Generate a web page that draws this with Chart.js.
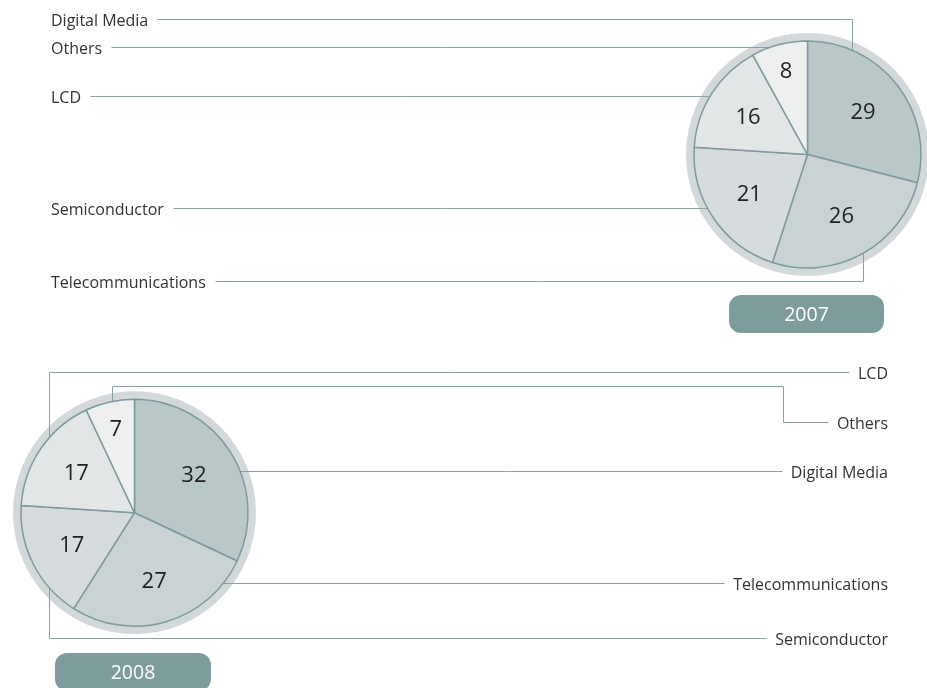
<!DOCTYPE html>
<html>
<head>
<meta charset="utf-8">
<title>Sales by business</title>
<script src="https://cdn.jsdelivr.net/npm/chart.js@4"></script>
<style>
  html, body { margin: 0; padding: 0; background: #fff; overflow: hidden; }
  #wrap { position: relative; width: 927px; height: 688px; }
  canvas { position: absolute; left: 0; }
  #c2007 { top: 0; }
  #c2008 { top: 344px; }
</style>
</head>
<body>
<div id="wrap">
  <canvas id="c2007" width="927" height="344"></canvas>
  <canvas id="c2008" width="927" height="344"></canvas>
</div>
<script>
// segments, same order in both years (clockwise from 12 o'clock)
const categories = ["Digital Media", "Telecommunications", "Semiconductor", "LCD", "Others"];
const share2007 = [29, 26, 21, 16, 8];
const share2008 = [32, 27, 17, 17, 7];
const years = ["2007", "2008"];

// styles
const sliceColors = ["#b9c7c8", "#c9d2d4", "#d6dcde", "#e2e6e7", "#eef0f0"];
const borderColor = "#7d9a9d";
const lineColor = "#88a2a5";
const ringColor = "#d3d9da";
const boxColor = "#7f9c9d";
const textColor = "#333";
const FONT = "'Open Sans', sans-serif";

const PIE_R = 113.5;
const RING = 8;

// where each label sits and how its leader runs ("E" = snap onto the pie edge)
const layout2007 = {
  padding: { left: 688, right: 0, top: 0, bottom: 35 },
  align: "left", textX: 51,
  leaders: [
    { name: "Digital Media", y: 19.5, path: [[852.5, 19.5], [852.5, "E"]] },
    { name: "Others", y: 47.5, path: [["E", 47.5]] },
    { name: "LCD", y: 96.5, path: [["E", 96.5]] },
    { name: "Semiconductor", y: 208.5, path: [["E", 208.5]] },
    { name: "Telecommunications", y: 281.5, path: [[863.5, 281.5], [863.5, "E"]] }
  ],
  box: { x: 729, y: 295, w: 155, h: 38 }
};

const layout2008 = {
  padding: { left: 0, right: 658, top: 0, bottom: 6.6 },
  align: "right", textX: 888,
  leaders: [
    { name: "LCD", y: 28.5, path: [[49.5, 28.5], [49.5, 294.5]] },
    { name: "Others", y: 78.5, path: [[783.5, 78.5], [783.5, 42.5], [112.5, 42.5], [112.5, "E"]] },
    { name: "Digital Media", y: 127.5, path: [["E", 127.5]] },
    { name: "Telecommunications", y: 239.5, path: [["E", 239.5]] },
    { name: "Semiconductor", y: 294.5, path: [[49.5, 294.5]] }
  ],
  box: { x: 55, y: 309, w: 156, h: 38 }
};

function roundRect(ctx, x, y, w, h, r) {
  ctx.beginPath();
  ctx.moveTo(x + r, y);
  ctx.arcTo(x + w, y, x + w, y + h, r);
  ctx.arcTo(x + w, y + h, x, y + h, r);
  ctx.arcTo(x, y + h, x, y, r);
  ctx.arcTo(x, y, x + w, y, r);
  ctx.closePath();
}

const decorPlugin = {
  id: "decor",
  beforeDatasetsDraw(chart, args, opts) {
    const ctx = chart.ctx;
    const arc0 = chart.getDatasetMeta(0).data[0];
    const cx = arc0.x, cy = arc0.y, r = arc0.outerRadius;

    // grey halo round the pie
    ctx.save();
    ctx.fillStyle = ringColor;
    ctx.beginPath();
    ctx.arc(cx, cy, r + RING, 0, Math.PI * 2);
    ctx.fill();

    // leader lines, drawn under the slices
    ctx.font = "16px " + FONT;
    ctx.strokeStyle = lineColor;
    ctx.lineWidth = 1;
    opts.leaders.forEach(l => {
      const w = ctx.measureText(l.name).width;
      let prev = opts.align === "left"
        ? [Math.round(opts.textX + w + 9) + 0.5, l.y]
        : [Math.round(opts.textX - w - 9) + 0.5, l.y];
      ctx.beginPath();
      ctx.moveTo(prev[0], prev[1]);
      l.path.forEach(p => {
        let x = p[0], y = p[1];
        if (x === "E") {
          const s = prev[0] < cx ? -1 : 1;
          x = cx + s * Math.sqrt(Math.max(r * r - (y - cy) * (y - cy), 0));
        }
        if (y === "E") {
          const s = prev[1] < cy ? -1 : 1;
          y = cy + s * Math.sqrt(Math.max(r * r - (x - cx) * (x - cx), 0));
        }
        ctx.lineTo(x, y);
        prev = [x, y];
      });
      ctx.stroke();
    });
    ctx.restore();
  },
  afterDatasetsDraw(chart, args, opts) {
    const ctx = chart.ctx;
    const values = chart.data.datasets[0].data;
    const total = values.reduce((a, b) => a + b, 0);

    // values inside the slices
    ctx.save();
    ctx.fillStyle = "#222";
    ctx.font = "22px " + FONT;
    ctx.textAlign = "center";
    ctx.textBaseline = "middle";
    chart.getDatasetMeta(0).data.forEach((a, i) => {
      const mid = (a.startAngle + a.endAngle) / 2;
      const k = values[i] / total < 0.1 ? 0.76 : 0.62;
      const d = a.outerRadius * k;
      ctx.fillText(String(values[i]), a.x + Math.cos(mid) * d, a.y + Math.sin(mid) * d + 1);
    });

    // category names
    ctx.fillStyle = textColor;
    ctx.font = "16px " + FONT;
    ctx.textAlign = opts.align;
    ctx.textBaseline = "alphabetic";
    opts.leaders.forEach(l => {
      ctx.fillText(l.name, opts.textX, l.y + 6);
    });

    // year tab
    const b = opts.box;
    ctx.fillStyle = boxColor;
    roundRect(ctx, b.x, b.y, b.w, b.h, 12);
    ctx.fill();
    ctx.fillStyle = "#fff";
    ctx.font = "19.5px " + FONT;
    ctx.textAlign = "center";
    ctx.textBaseline = "middle";
    ctx.fillText(opts.year, b.x + b.w / 2, b.y + b.h / 2 + 1);
    ctx.restore();
  }
};

function makePie(id, values, year, lay) {
  return new Chart(document.getElementById(id), {
    type: "pie",
    data: {
      labels: categories,
      datasets: [{
        data: values,
        backgroundColor: sliceColors,
        borderColor: borderColor,
        borderWidth: 1.5,
        radius: PIE_R
      }]
    },
    options: {
      responsive: false,
      animation: false,
      layout: { padding: lay.padding },
      plugins: {
        legend: { display: false },
        tooltip: { enabled: false },
        decor: {
          year: year,
          align: lay.align,
          textX: lay.textX,
          leaders: lay.leaders,
          box: lay.box
        }
      }
    },
    plugins: [decorPlugin]
  });
}

makePie("c2007", share2007, years[0], layout2007);
makePie("c2008", share2008, years[1], layout2008);
</script>
</body>
</html>
